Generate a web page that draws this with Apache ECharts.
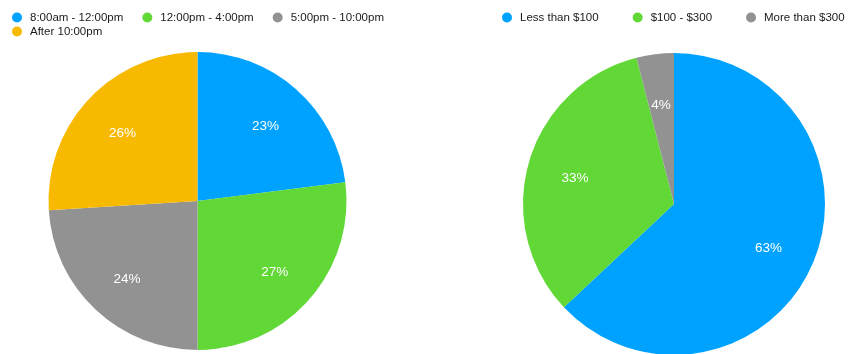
<!DOCTYPE html>
<html>
<head>
<meta charset="utf-8">
<style>
  html, body { margin: 0; padding: 0; background: #ffffff; }
  #chart { width: 850px; height: 354px; }
</style>
<script src="https://cdn.jsdelivr.net/npm/echarts@6/dist/echarts.min.js"></script>
</head>
<body>
<div id="chart"></div>
<script>
// Share of visits by time of day
const timeSlots = ['8:00am - 12:00pm', '12:00pm - 4:00pm', '5:00pm - 10:00pm', 'After 10:00pm'];
const timeShares = [23, 27, 24, 26];
const timeColors = ['#00A2FF', '#61D836', '#929292', '#F8BA00'];

// Share of orders by spend band
const spendBands = ['Less than $100', '$100 - $300', 'More than $300'];
const spendShares = [63, 33, 4];
const spendColors = ['#00A2FF', '#61D836', '#929292'];

const FONT = '"Liberation Sans", Arial, Helvetica, sans-serif';

function slices(names, values, colors) {
  return names.map((n, i) => ({ name: n, value: values[i], itemStyle: { color: colors[i] } }));
}
function ghostSlices(names, values) {
  return names.map((n, i) => ({ name: n, value: values[i], itemStyle: { color: 'rgba(0,0,0,0)' } }));
}

// Solid pie, no labels
function basePie(center, radius, data) {
  return {
    type: 'pie', center: center, radius: [0, radius], startAngle: 90, clockwise: true,
    data: data, label: { show: false }, labelLine: { show: false },
    itemStyle: { borderWidth: 0 }, emphasis: { disabled: true }, silent: true
  };
}
// Transparent ring on top that carries the percent labels further out
function labelRing(center, inner, radius, data) {
  return {
    type: 'pie', center: center, radius: [inner, radius], startAngle: 90, clockwise: true,
    data: data, avoidLabelOverlap: false, labelLine: { show: false },
    itemStyle: { borderWidth: 0 }, emphasis: { disabled: true }, silent: true,
    label: {
      show: true, position: 'inside', formatter: '{c}%', offset: [0, 3],
      color: '#ffffff', fontSize: 13.5, fontFamily: FONT
    }
  };
}

const legendBase = {
  orient: 'horizontal', icon: 'circle', itemWidth: 16, itemHeight: 10,
  padding: 0, selectedMode: false,
  textStyle: { color: '#1a1a1a', fontSize: 11.5, fontFamily: FONT }
};

const chart = echarts.init(document.getElementById('chart'), null, { renderer: 'canvas' });
chart.setOption({
  backgroundColor: '#ffffff',
  animation: false,
  legend: [
    Object.assign({}, legendBase, { left: 12, top: 11.5, itemGap: 19, data: timeSlots.slice(0, 3) }),
    Object.assign({}, legendBase, { left: 12, top: 25.5, itemGap: 19, data: timeSlots.slice(3) }),
    Object.assign({}, legendBase, { left: 502, top: 11.5, itemGap: 34, data: spendBands })
  ],
  series: [
    basePie([197.5, 201], 149, slices(timeSlots, timeShares, timeColors)),
    labelRing([197.5, 201], 51, 149, ghostSlices(timeSlots, timeShares)),
    basePie([674, 204], 151, slices(spendBands, spendShares, spendColors)),
    labelRing([674, 204], 49, 151, ghostSlices(spendBands, spendShares))
  ]
});
</script>
</body>
</html>
